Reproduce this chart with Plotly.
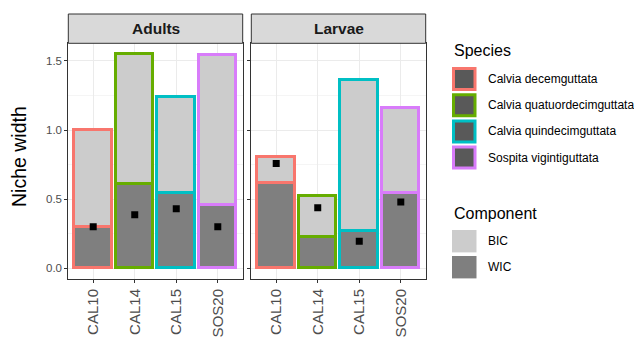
import plotly.graph_objects as go
from plotly.subplots import make_subplots

# ---- data -------------------------------------------------------------
groups = ["CAL10", "CAL14", "CAL15", "SOS20"]
species = ["Calvia decemguttata", "Calvia quatuordecimguttata",
           "Calvia quindecimguttata", "Sospita vigintiguttata"]
species_colors = ["#F8766D", "#66AD00", "#00BFC4", "#D87CFA"]

adults_wic = [0.295, 0.607, 0.540, 0.455]
adults_bic = [0.705, 0.943, 0.700, 1.085]
adults_ratio = [0.300, 0.387, 0.430, 0.300]

larvae_wic = [0.617, 0.225, 0.264, 0.544]
larvae_bic = [0.189, 0.293, 1.093, 0.615]
larvae_ratio = [0.758, 0.438, 0.196, 0.479]

facets = ["Adults", "Larvae"]
components = ["BIC", "WIC"]
component_colors = {"BIC": "#CCCCCC", "WIC": "#7F7F7F"}

# ---- geometry (pixels in a 634 x 338 canvas) --------------------------
W, H = 634, 338
FONT = "Liberation Sans, Arial, Helvetica, sans-serif"


def px(x):
    return x / W


def py(y):
    return 1 - y / H


panel_x = [(68.3, 242.7), (251.3, 425.7)]
panel_top, panel_bottom = 43.3, 279.0
strip_top = 14.0

fig = make_subplots(rows=1, cols=2, shared_yaxes=True)

facet_data = [(adults_wic, adults_bic, adults_ratio),
              (larvae_wic, larvae_bic, larvae_ratio)]

for i, (wic, bic, ratio) in enumerate(facet_data):
    col = i + 1
    fig.add_trace(go.Bar(x=groups, y=wic, width=0.9,
                         marker=dict(color=component_colors["WIC"],
                                     line=dict(color=species_colors, width=3)),
                         hoverinfo="skip"), row=1, col=col)
    fig.add_trace(go.Bar(x=groups, y=bic, width=0.9,
                         marker=dict(color=component_colors["BIC"],
                                     line=dict(color=species_colors, width=3)),
                         hoverinfo="skip"), row=1, col=col)
    fig.add_trace(go.Scatter(x=groups, y=ratio, mode="markers",
                             marker=dict(symbol="square", size=7, color="black"),
                             hoverinfo="skip"), row=1, col=col)

fig.update_layout(barmode="stack", bargap=0, showlegend=False,
                  width=W, height=H, margin=dict(l=0, r=0, t=0, b=0),
                  plot_bgcolor="white", paper_bgcolor="white",
                  font=dict(family=FONT))

axis_common = dict(showline=True, mirror=True, linecolor="#333333", linewidth=1,
                   ticks="outside", ticklen=3, tickcolor="#333333", tickwidth=1,
                   gridcolor="#EBEBEB", gridwidth=1, zeroline=False)

for i, name in enumerate(["xaxis", "xaxis2"]):
    x0, x1 = panel_x[i]
    fig.layout[name].update(domain=[px(x0), px(x1)], type="category",
                            categoryorder="array", categoryarray=groups,
                            range=[-0.6, 3.6], tickangle=-90,
                            tickfont=dict(size=15, color="#4D4D4D", family=FONT),
                            **axis_common)

for i, name in enumerate(["yaxis", "yaxis2"]):
    fig.layout[name].update(domain=[py(panel_bottom), py(panel_top)],
                            range=[-0.0775, 1.6275], tickvals=[0, 0.5, 1.0, 1.5],
                            ticktext=["0.0", "0.5", "1.0", "1.5"],
                            tickfont=dict(size=11.5, color="#4D4D4D", family=FONT),
                            minor=dict(tickvals=[0.25, 0.75, 1.25], showgrid=True,
                                       gridcolor="#F5F5F5", gridwidth=0.6, ticks=""),
                            **axis_common)
fig.layout.yaxis2.update(showticklabels=False)

shapes = []
annotations = []

# facet strips
for i, name in enumerate(facets):
    x0, x1 = panel_x[i]
    shapes.append(dict(type="rect", xref="paper", yref="paper",
                       x0=px(x0), x1=px(x1), y0=py(panel_top), y1=py(strip_top),
                       fillcolor="#D9D9D9", line=dict(color="#333333", width=1)))
    annotations.append(dict(text=f"<b>{name}</b>", xref="paper", yref="paper",
                            x=px((x0 + x1) / 2), y=py((strip_top + panel_top) / 2),
                            showarrow=False, xanchor="center", yanchor="middle",
                            font=dict(size=15.5, color="#1A1A1A", family=FONT)))

# y axis title
annotations.append(dict(text="Niche width", xref="paper", yref="paper",
                        x=px(19), y=py(157), textangle=-90, showarrow=False,
                        xanchor="center", yanchor="middle",
                        font=dict(size=19.5, color="black", family=FONT)))

# legend: Species
key_x0, key_x1 = 452.0, 476.5
text_x = 485.5
annotations.append(dict(text="Species", xref="paper", yref="paper",
                        x=px(key_x0), y=py(50.5), showarrow=False,
                        xanchor="left", yanchor="middle",
                        font=dict(size=16, color="black", family=FONT)))
species_centers = [79.0, 105.2, 131.4, 157.6]
for name, color, cy in zip(species, species_colors, species_centers):
    shapes.append(dict(type="rect", xref="paper", yref="paper",
                       x0=px(key_x0 + 1.5), x1=px(key_x1 - 1.5),
                       y0=py(cy + 10.5), y1=py(cy - 10.5),
                       fillcolor="#595959", line=dict(color=color, width=3)))
    annotations.append(dict(text=name, xref="paper", yref="paper",
                            x=px(text_x), y=py(cy), showarrow=False,
                            xanchor="left", yanchor="middle",
                            font=dict(size=12, color="black", family=FONT)))

# legend: Component
annotations.append(dict(text="Component", xref="paper", yref="paper",
                        x=px(key_x0), y=py(213), showarrow=False,
                        xanchor="left", yanchor="middle",
                        font=dict(size=16, color="black", family=FONT)))
component_centers = [241.2, 267.2]
for name, cy in zip(components, component_centers):
    shapes.append(dict(type="rect", xref="paper", yref="paper",
                       x0=px(key_x0), x1=px(key_x1),
                       y0=py(cy + 11.2), y1=py(cy - 11.2),
                       fillcolor=component_colors[name], line=dict(width=0)))
    annotations.append(dict(text=name, xref="paper", yref="paper",
                            x=px(text_x), y=py(cy), showarrow=False,
                            xanchor="left", yanchor="middle",
                            font=dict(size=12, color="black", family=FONT)))

fig.update_layout(shapes=shapes, annotations=annotations)

fig.write_html("out.html")
